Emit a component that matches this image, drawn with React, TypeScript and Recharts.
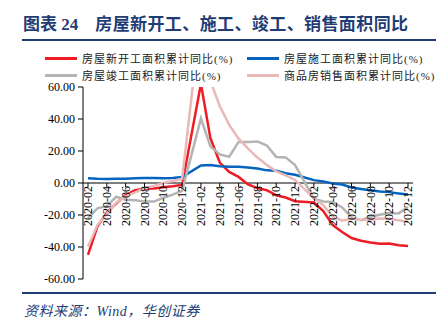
import React from 'react'
import { LineChart, Line, XAxis, YAxis, ReferenceLine } from 'recharts'

// months 2020-02 .. 2022-12 (January has no cumulative figure)
const months = [
    '2020-02', '2020-03', '2020-04', '2020-05', '2020-06', '2020-07', '2020-08', '2020-09', '2020-10', '2020-11', '2020-12',
    '2021-01', '2021-02', '2021-03', '2021-04', '2021-05', '2021-06', '2021-07', '2021-08', '2021-09', '2021-10', '2021-11', '2021-12',
    '2022-01', '2022-02', '2022-03', '2022-04', '2022-05', '2022-06', '2022-07', '2022-08', '2022-09', '2022-10', '2022-11', '2022-12',
]

const newStarts = [
    -44.9, -27.2, -18.4, -12.8, -7.6, -4.5, -3.6, -3.4, -2.6, -2.0, -1.2,
    null, 62, 28.2, 12.8, 6.9, 3.8, -0.9, -3.2, -4.5, -7.7, -9.1, -11.4,
    null, -12.2, -17.5, -26.3, -30.6, -34.4, -36.1, -37.2, -38.0, -37.8, -38.9, -39.4,
]
const underConstruction = [
    2.9, 2.6, 2.5, 2.6, 2.6, 2.9, 3.1, 3.1, 3.0, 3.2, 3.7,
    null, 11.0, 11.2, 10.5, 10.1, 10.2, 9.7, 9.0, 7.9, 7.6, 6.1, 5.2,
    null, 1.8, 1.0, -0.3, -1.0, -2.8, -3.7, -4.5, -5.3, -5.7, -6.5, -7.2,
]
const completed = [
    -22.0, -15.8, -14.5, -8.6, -10.5, -10.8, -11.5, -11.6, -9.2, -7.3, -4.9,
    null, 40.4, 22.9, 17.9, 16.4, 25.7, 25.7, 26.0, 23.4, 16.3, 16.0, 11.2,
    null, -9.8, -11.5, -11.9, -15.3, -21.5, -23.3, -21.1, -19.9, -18.7, -19.0, -15.0,
]
const sold = [
    -39.9, -26.3, -19.3, -12.3, -8.4, -5.8, -3.3, -1.8, 0.0, 1.3, 2.6,
    null, 104.9, 63.8, 48.1, 36.3, 27.7, 21.5, 15.9, 11.3, 7.3, 4.8, 1.9,
    null, -9.6, -13.8, -20.9, -23.6, -22.2, -23.1, -23.0, -22.2, -22.3, -23.3, -24.3,
]

const yTicks = [-60, -40, -20, 0, 20, 40, 60]

const seriesNames = ['房屋新开工面积累计同比(%)', '房屋施工面积累计同比(%)', '房屋竣工面积累计同比(%)', '商品房销售面积累计同比(%)']

const data = months.map((m, i) => ({
    month: m,
    a: newStarts[i],
    b: underConstruction[i],
    c: completed[i],
    d: sold[i],
}))

const RED = '#EE1C25'
const BLUE = '#0563C1'
const GRAY = '#B4B4B4'
const PINK = '#E8B9B8'
const NAVY = '#1F3C74'
const SERIF = "'Liberation Serif', 'Times New Roman', 'Noto Sans CJK SC', serif"

const PLOT_TOP = 87
const PLOT_H = 192
const ZERO_Y = PLOT_TOP + PLOT_H / 2

const XTick = (props: any) => {
    const { x, payload } = props
    return (
        <g>
            <line x1={x} x2={x} y1={ZERO_Y} y2={ZERO_Y + 4} stroke="#000" />
            <text
                transform={`translate(${x},${ZERO_Y + 3}) rotate(-90)`}
                textAnchor="end"
                dy="0.35em"
                fontSize={12}
                fontFamily={SERIF}
                fill="#000"
            >
                {payload.value}
            </text>
        </g>
    )
}

const LegendItem = ({ color, label, left, top }: { color: string; label: string; left: number; top: number }) => (
    <div style={{ position: 'absolute', left, top, display: 'flex', alignItems: 'center', height: 14 }}>
        <div style={{ width: 32, height: 3, background: color }} />
        <span style={{ marginLeft: 5, fontSize: 11, fontFamily: SERIF, color: '#222', whiteSpace: 'nowrap', letterSpacing: 1 }}>{label}</span>
    </div>
)

export default function App() {
    return (
        <div style={{ position: 'absolute', left: 0, top: 0, width: 439, height: 324, background: '#fff', overflow: 'hidden' }}>
            <div style={{ position: 'absolute', left: 23, top: 10, fontSize: 17, fontWeight: 'bold', color: NAVY, fontFamily: SERIF, whiteSpace: 'nowrap' }}>
                <span>图表 24</span>
                <span style={{ marginLeft: 17, letterSpacing: 0.4 }}>房屋新开工、施工、竣工、销售面积同比</span>
            </div>
            <div style={{ position: 'absolute', left: 22, top: 39, width: 414, height: 2, background: NAVY }} />

            <LegendItem color={RED} label={seriesNames[0]} left={45} top={51} />
            <LegendItem color={BLUE} label={seriesNames[1]} left={247} top={51} />
            <LegendItem color={GRAY} label={seriesNames[2]} left={45} top={68} />
            <LegendItem color={PINK} label={seriesNames[3]} left={247} top={68} />

            <LineChart
                width={439}
                height={324}
                data={data}
                margin={{ top: PLOT_TOP, right: 26, bottom: 0, left: 0 }}
                style={{ position: 'absolute', left: 0, top: 0 }}
            >
                <XAxis
                    dataKey="month"
                    interval={1}
                    axisLine={false}
                    tickLine={false}
                    tick={<XTick />}
                    height={45}
                    padding={{ left: 5, right: 5 }}
                />
                <YAxis
                    domain={[-60, 60]}
                    ticks={yTicks}
                    allowDataOverflow
                    width={83}
                    tickFormatter={(v: number) => v.toFixed(2)}
                    tick={{ fontSize: 12, fontFamily: SERIF, fill: '#000' }}
                    axisLine={{ stroke: '#000' }}
                    tickLine={{ stroke: '#000' }}
                    tickSize={5}
                    tickMargin={3}
                />
                <ReferenceLine y={0} stroke="#000" />
                <Line dataKey="a" stroke={RED} strokeWidth={2.5} dot={false} connectNulls isAnimationActive={false} />
                <Line dataKey="b" stroke={BLUE} strokeWidth={2.5} dot={false} connectNulls isAnimationActive={false} />
                <Line dataKey="c" stroke={GRAY} strokeWidth={2.5} dot={false} connectNulls isAnimationActive={false} />
                <Line dataKey="d" stroke={PINK} strokeWidth={2.5} dot={false} connectNulls isAnimationActive={false} />
            </LineChart>

            <div style={{ position: 'absolute', left: 22, top: 292, width: 414, height: 2, background: NAVY }} />
            <div style={{ position: 'absolute', left: 24, top: 300, fontSize: 14, fontStyle: 'italic', color: NAVY, fontFamily: SERIF, whiteSpace: 'nowrap', letterSpacing: 0.5 }}>
                资料来源：Wind，华创证券
            </div>
        </div>
    )
}
